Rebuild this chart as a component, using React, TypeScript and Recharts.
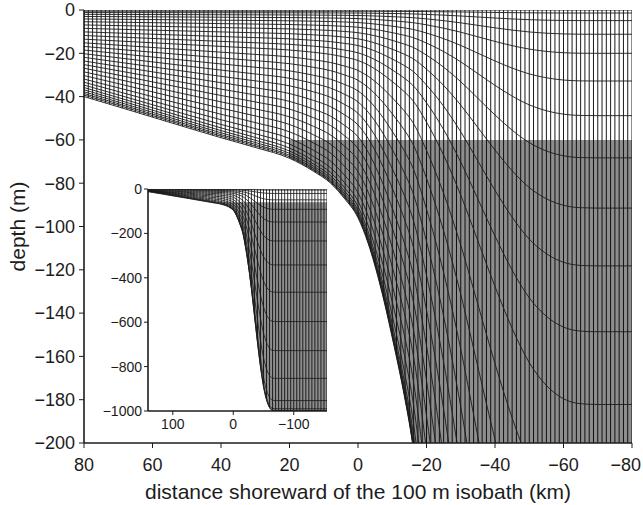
import React from 'react';
import { ComposedChart, Line, Area, XAxis, YAxis, ReferenceArea } from 'recharts';

// Seabed profile across the section: km shoreward of the 100 m isobath, depth in m
const bottomKm = [141, 120, 100, 80, 60, 40, 30, 20, 13, 8, 4, 0, -3, -6.6, -10.5, -13.5, -15.9, -20, -25, -30, -35, -40, -45, -50, -55, -60, -65, -70, -100, -155];
const bottomDepth = [12, 21.5, 31, 40, 49.5, 59, 63.5, 68.5, 74.5, 80, 87, 96, 108, 128, 155, 178, 200, 258, 345, 450, 570, 690, 800, 890, 950, 985, 998, 1000, 1000, 1000];

// Depth (m) of every s-level interface, surface to bottom, in the 40 m shelf column
const shelfLevelDepth = [0, 0.54, 1.19, 2.01, 2.99, 4.13, 5.43, 6.9, 8.48, 10.11, 11.79, 13.47, 15.15, 16.83, 18.51, 20.19, 21.87, 23.55, 25.23, 26.91, 28.59, 30.27, 31.9, 33.37, 34.67, 35.81, 36.84, 37.76, 38.58, 39.29, 40];
// ... and in the 1000 m deep column
const deepLevelDepth = [0, 1.4, 4.9, 11.2, 20, 32.8, 48.8, 68.3, 91.5, 118.2, 148.6, 182.2, 234, 285, 342, 402, 465, 530, 597, 662, 728, 792, 853, 908, 953, 978, 990, 995.5, 998.5, 999.6, 1000];
const SHELF_COLUMN_M = 40;
const DEEP_COLUMN_M = 1000;

// Horizontal grid
const GRID_WEST_KM = 140;
const GRID_EAST_KM = -155;
const GRID_DX_KM = 1.25;

// Shaded region: offshore of 20 km and deeper than 60 m
const SHADE_EDGE_KM = 20;
const SHADE_TOP_M = -60;

const mainXTicks = [80, 60, 40, 20, 0, -20, -40, -60, -80];
const mainYTicks = [0, -20, -40, -60, -80, -100, -120, -140, -160, -180, -200];
const insetXTicks = [100, 0, -100];
const insetYTicks = [0, -200, -400, -600, -800, -1000];

const INK = '#1c1c1c';
const SHADE = '#8e8e8e';
const FONT = '"Liberation Sans", Arial, Helvetica, sans-serif';

const fmt = (v: number) => (v < 0 ? '\u2212' + Math.abs(v) : String(v));
const blank = () => '';

// s-levels vary linearly with local water depth between the two reference columns
const levelDepthAt = (k: number, h: number) =>
  shelfLevelDepth[k] +
  ((h - SHELF_COLUMN_M) * (deepLevelDepth[k] - shelfLevelDepth[k])) / (DEEP_COLUMN_M - SHELF_COLUMN_M);

const levelSeries = shelfLevelDepth.map((_, k) =>
  bottomKm.map((x, i) => ({ x, z: -levelDepthAt(k, bottomDepth[i]) }))
);
const seabed = bottomKm.map((x, i) => ({ x, z: -bottomDepth[i] }));

const gridColumns: number[] = [];
for (let x = GRID_WEST_KM; x >= GRID_EAST_KM - 1e-6; x -= GRID_DX_KM) {
  gridColumns.push(Math.round(x * 1000) / 1000);
}

// Bottom tick labels; the outermost one is right-aligned so it stays on the page
function makeXTick(fontSize: number, lastValue: number | null) {
  return (props: any) => {
    const { x, y, payload } = props;
    const edge = lastValue !== null && payload.value === lastValue;
    return (
      <text
        x={edge ? x + 9 : x}
        y={y}
        dy="0.71em"
        textAnchor={edge ? 'end' : 'middle'}
        fontSize={fontSize}
        fill={INK}
        fontFamily={FONT}
      >
        {fmt(payload.value)}
      </text>
    );
  };
}

type SectionProps = {
  width: number;
  height: number;
  margin: { top: number; right: number; bottom: number; left: number };
  xDomain: [number, number];
  yDomain: [number, number];
  xTicks: number[];
  yTicks: number[];
  columnStep: number;
  levelStep: number;
  fontSize: number;
  tickSize: number;
  xTickMargin: number;
  yTickMargin: number;
  yAxisWidth: number;
  xAxisHeight: number;
  axisWidth: number;
  lineWidth: number;
  edgeTick: number | null;
  xLabel?: string;
  yLabel?: string;
  labelSize?: number;
};

function Section(p: SectionProps) {
  const [xMin, xMax] = p.xDomain;
  const [yMin, yMax] = p.yDomain;
  const deepest = yMin - 1000;
  const columns = gridColumns.filter(
    (x, i) => i % p.columnStep === 0 && x >= xMin - 0.01 && x <= xMax + 0.01
  );
  const levels = levelSeries.filter((_, k) => k % p.levelStep === 0 || k === levelSeries.length - 1);
  const axisLine = { stroke: INK, strokeWidth: p.axisWidth };
  const tickLine = { stroke: INK, strokeWidth: 1 };
  const tick = { fontSize: p.fontSize, fill: INK, fontFamily: FONT };
  return (
    <ComposedChart width={p.width} height={p.height} margin={p.margin}>
      <XAxis
        type="number"
        dataKey="x"
        domain={p.xDomain}
        reversed
        allowDataOverflow
        ticks={p.xTicks}
        interval={0}
        tickFormatter={fmt}
        height={p.xAxisHeight}
        tickSize={p.tickSize}
        tickMargin={p.xTickMargin}
        tick={makeXTick(p.fontSize, p.edgeTick)}
        axisLine={axisLine}
        tickLine={tickLine}
        label={
          p.xLabel
            ? { value: p.xLabel, position: 'insideBottom', offset: 6, fontSize: p.labelSize, fill: INK, fontFamily: FONT }
            : undefined
        }
      />
      <YAxis
        type="number"
        dataKey="z"
        domain={p.yDomain}
        allowDataOverflow
        ticks={p.yTicks}
        interval={0}
        tickFormatter={fmt}
        width={p.yAxisWidth}
        tickSize={p.tickSize}
        tickMargin={p.yTickMargin}
        tick={tick}
        axisLine={axisLine}
        tickLine={tickLine}
        label={
          p.yLabel
            ? {
                value: p.yLabel,
                angle: -90,
                position: 'insideLeft',
                offset: 18,
                fontSize: p.labelSize,
                fill: INK,
                fontFamily: FONT,
                style: { textAnchor: 'middle' },
              }
            : undefined
        }
      />
      <XAxis
        xAxisId="top"
        orientation="top"
        type="number"
        dataKey="x"
        domain={p.xDomain}
        reversed
        allowDataOverflow
        ticks={p.xTicks}
        interval={0}
        tickFormatter={blank}
        height={0}
        tickSize={p.tickSize}
        axisLine={axisLine}
        tickLine={tickLine}
      />
      <YAxis
        yAxisId="right"
        orientation="right"
        type="number"
        dataKey="z"
        domain={p.yDomain}
        allowDataOverflow
        ticks={p.yTicks}
        interval={0}
        tickFormatter={blank}
        width={0}
        tickSize={p.tickSize}
        axisLine={axisLine}
        tickLine={tickLine}
      />
      <ReferenceArea
        x1={SHADE_EDGE_KM}
        x2={xMin - 50}
        y1={yMin - 500}
        y2={SHADE_TOP_M}
        ifOverflow="hidden"
        fill={SHADE}
        fillOpacity={1}
        stroke="none"
        zIndex={50}
      />
      {columns.map((x) => (
        <Line
          key={'col' + x}
          data={[
            { x, z: 0 },
            { x, z: deepest },
          ]}
          dataKey="z"
          type="linear"
          stroke="#000"
          strokeWidth={p.lineWidth}
          dot={false}
          activeDot={false}
          legendType="none"
          isAnimationActive={false}
          zIndex={200}
        />
      ))}
      <Area
        data={seabed}
        dataKey="z"
        type="monotone"
        baseValue={deepest}
        fill="#ffffff"
        fillOpacity={1}
        stroke="none"
        dot={false}
        activeDot={false}
        legendType="none"
        isAnimationActive={false}
        zIndex={300}
      />
      {levels.map((pts, k) => (
        <Line
          key={'lev' + k}
          data={pts}
          dataKey="z"
          type="monotone"
          stroke={INK}
          strokeWidth={p.lineWidth}
          dot={false}
          activeDot={false}
          legendType="none"
          isAnimationActive={false}
          zIndex={400}
        />
      ))}
      <Line
        xAxisId="top"
        yAxisId="right"
        data={[
          { x: xMin, z: yMin },
          { x: xMax, z: yMax },
        ]}
        dataKey="z"
        stroke="none"
        dot={false}
        activeDot={false}
        legendType="none"
        isAnimationActive={false}
      />
    </ComposedChart>
  );
}

export default function App() {
  return (
    <div
      style={{
        position: 'absolute',
        left: 0,
        top: 0,
        width: 643,
        height: 505,
        background: '#ffffff',
        fontFamily: FONT,
      }}
    >
      <Section
        width={643}
        height={505}
        margin={{ top: 10, right: 11, bottom: 0, left: 0 }}
        xDomain={[-80, 80]}
        yDomain={[-200, 0]}
        xTicks={mainXTicks}
        yTicks={mainYTicks}
        columnStep={1}
        levelStep={1}
        fontSize={18}
        tickSize={5}
        xTickMargin={10}
        yTickMargin={4}
        yAxisWidth={84}
        xAxisHeight={62}
        axisWidth={1.6}
        lineWidth={0.9}
        edgeTick={-80}
        xLabel="distance shoreward of the 100 m isobath (km)"
        yLabel="depth (m)"
        labelSize={21}
      />
      <div style={{ position: 'absolute', left: 100, top: 176, width: 232, height: 263 }}>
        <Section
          width={232}
          height={263}
          margin={{ top: 13, right: 5, bottom: 0, left: 0 }}
          xDomain={[-155, 141]}
          yDomain={[-1000, 0]}
          xTicks={insetXTicks}
          yTicks={insetYTicks}
          columnStep={4}
          levelStep={2}
          fontSize={14}
          tickSize={4}
          xTickMargin={4}
          yTickMargin={2}
          yAxisWidth={48}
          xAxisHeight={28}
          axisWidth={1.6}
          lineWidth={0.8}
          edgeTick={null}
        />
      </div>
    </div>
  );
}
